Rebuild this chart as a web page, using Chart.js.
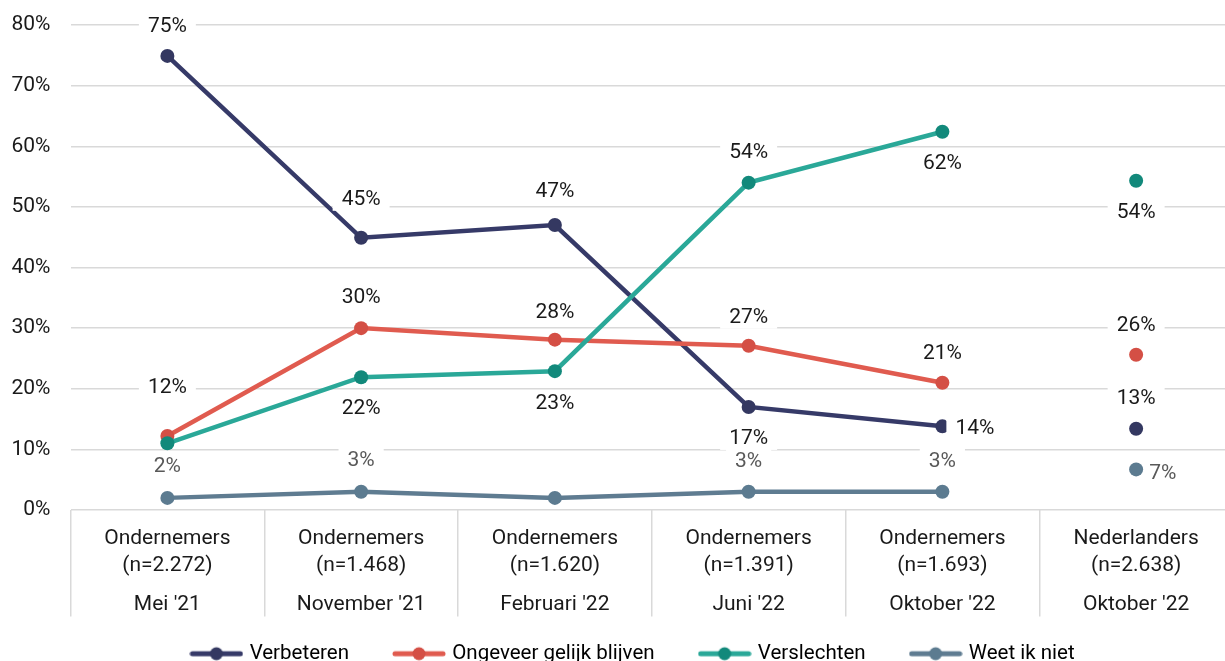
<!DOCTYPE html>
<html><head><meta charset="utf-8">
<script src="https://cdn.jsdelivr.net/npm/chart.js@4/dist/chart.umd.min.js"></script>
<style>
html,body{margin:0;padding:0;overflow:hidden;background:#fff;width:1225px;height:661px;}
#wrap{position:absolute;left:0;top:0;width:1240px;height:680px;}
</style></head><body>
<div id="wrap"><canvas id="c"></canvas></div>
<script>
// ---- data ----
const groups = ['Ondernemers','Ondernemers','Ondernemers','Ondernemers','Ondernemers','Nederlanders'];
const sampleSizes = ['(n=2.272)','(n=1.468)','(n=1.620)','(n=1.391)','(n=1.693)','(n=2.638)'];
const periods = ["Mei '21","November '21","Februari '22","Juni '22","Oktober '22","Oktober '22"];
const seriesNames = ['Verbeteren','Ongeveer gelijk blijven','Verslechten','Weet ik niet'];
const verbeteren  = [74.9, 44.9, 47.0, 17.0, 13.8, 13.4];
const gelijk      = [12.2, 30.0, 28.1, 27.1, 21.0, 25.6];
const verslechten = [11.0, 21.9, 22.9, 54.0, 62.4, 54.3];
const weetNiet    = [2.0, 3.0, 2.0, 3.0, 3.0, 6.7];
const yMin = 0, yMax = 80, yStep = 10;

// ---- styling ----
const FONT = 'Roboto';
const TEXT = '#1a1a1a';
const lineColors = ['#363a68', '#e05b4f', '#2aa898', '#5f7c91'];
const dotColors  = ['#343861', '#d44f45', '#12897b', '#5c7b90'];
const labelColors = [TEXT, TEXT, TEXT, '#595959'];
// label placement per point: number = vertical px offset (negative = above), 'r' = right, null = none
const labelPlacement = [
  [-30, -39, -34, 31, 'r', -31],
  [-49, -31, -28, -29, -30, -30],
  [null, 31, 32, -31, 31, 31],
  [-32, -32, null, -31, -31, 'r']
];

const seriesData = [verbeteren, gelijk, verslechten, weetNiet];

function legendImg(line, dot){
  const c = document.createElement('canvas'); c.width = 54; c.height = 16;
  const g = c.getContext('2d');
  g.strokeStyle = line; g.lineWidth = 5; g.lineCap = 'round';
  g.beginPath(); g.moveTo(3, 8); g.lineTo(51, 8); g.stroke();
  g.fillStyle = dot; g.beginPath(); g.arc(27, 8, 6.5, 0, Math.PI*2); g.fill();
  return c;
}
const legendImgs = lineColors.map((c,i)=>legendImg(c, dotColors[i]));

const valueLabels = {
  id: 'valueLabels',
  afterDatasetsDraw(chart){
    const ctx = chart.ctx;
    ctx.save();
    ctx.font = '21px ' + FONT;
    ctx.textBaseline = 'middle';
    ctx.textAlign = 'center';
    chart.data.datasets.forEach((ds, di) => {
      const meta = chart.getDatasetMeta(di);
      const place = labelPlacement[di];
      meta.data.forEach((pt, i) => {
        const off = place[i];
        if (off === null || off === undefined) return;
        const txt = Math.round(ds.data[i]) + '%';
        const w = ctx.measureText(txt).width;
        let cx, cy, padL = 9;
        if (off === 'r') { cx = pt.x + 13 + w/2; cy = pt.y + (di === 3 ? 3 : 1); if (di === 3) padL = 2; }
        else { cx = pt.x; cy = pt.y + off; }
        ctx.fillStyle = '#ffffff';
        ctx.fillRect(cx - w/2 - padL, cy - 12, w + padL + 9, 24);
        ctx.fillStyle = labelColors[di];
        ctx.fillText(txt, cx, cy + 1);
      });
    });
    ctx.restore();
  }
};

// second row of the category axis (period), placed under each category of the x scale
const periodRow = {
  id: 'periodRow',
  afterDraw(chart){
    const x = chart.scales.x;
    const ctx = chart.ctx;
    ctx.save();
    ctx.font = '21px ' + FONT;
    ctx.fillStyle = TEXT;
    ctx.textAlign = 'center';
    ctx.textBaseline = 'middle';
    periods.forEach((p, i) => ctx.fillText(p, x.getPixelForValue(i), x.top + 94.5));
    ctx.restore();
  }
};

const shiftLegend = {
  id: 'shiftLegend',
  afterLayout(chart){
    if (chart.legend){ chart.legend.left += 10; chart.legend.right += 10; }
  }
};

const datasets = seriesNames.map((name, i) => ({
  label: name,
  data: seriesData[i],
  borderColor: lineColors[i],
  backgroundColor: dotColors[i],
  pointBackgroundColor: dotColors[i],
  pointBorderWidth: 0,
  pointRadius: 7,
  pointHoverRadius: 7,
  borderWidth: 4.5,
  tension: 0,
  order: 4 - i,
  clip: false,
  segment: { borderColor: c => c.p1DataIndex === 5 ? 'rgba(0,0,0,0)' : undefined }
}));

new Chart(document.getElementById('c'), {
  type: 'line',
  data: {
    labels: groups.map((g, i) => [g, sampleSizes[i]]),
    datasets
  },
  options: {
    responsive: true,
    maintainAspectRatio: false,
    animation: false,
    events: [],
    layout: { padding: { left: 12, right: 4, top: 25, bottom: 6 } },
    scales: {
      y: {
        min: yMin, max: yMax,
        ticks: { stepSize: yStep, padding: 20, color: TEXT, font: { family: FONT, size: 21 },
                 callback: v => v + '%' },
        grid: { color: '#d9d9d9', lineWidth: 1.5, drawTicks: false },
        border: { display: false },
        afterFit(s){ s.width = 58.5; s.paddingTop = 0; s.paddingBottom = 0; }
      },
      x: {
        type: 'category',
        position: 'bottom',
        offset: true,
        grid: { offset: true, drawOnChartArea: false, drawTicks: true, tickLength: 106.5, color: '#d9d9d9', lineWidth: 1.5 },
        border: { display: false },
        ticks: { padding: -91.5, color: TEXT, autoSkip: false, maxRotation: 0,
                 font: { family: FONT, size: 21, lineHeight: 27/21 } },
        afterFit(s){ s.height = 86.5; s.paddingLeft = 0; s.paddingRight = 0; }
      }
    },
    plugins: {
      tooltip: { enabled: false },
      legend: {
        position: 'bottom',
        labels: {
          color: '#000',
          font: { family: FONT, size: 20.5 },
          usePointStyle: true,
          pointStyleWidth: 46,
          padding: 47,
          sort: (a, b) => a.datasetIndex - b.datasetIndex,
          generateLabels(chart){
            const items = Chart.defaults.plugins.legend.labels.generateLabels(chart);
            items.forEach(it => { it.pointStyle = legendImgs[it.datasetIndex]; it.lineWidth = 0; });
            return items;
          }
        }
      }
    }
  },
  plugins: [valueLabels, periodRow, shiftLegend]
});
</script>
</body></html>
